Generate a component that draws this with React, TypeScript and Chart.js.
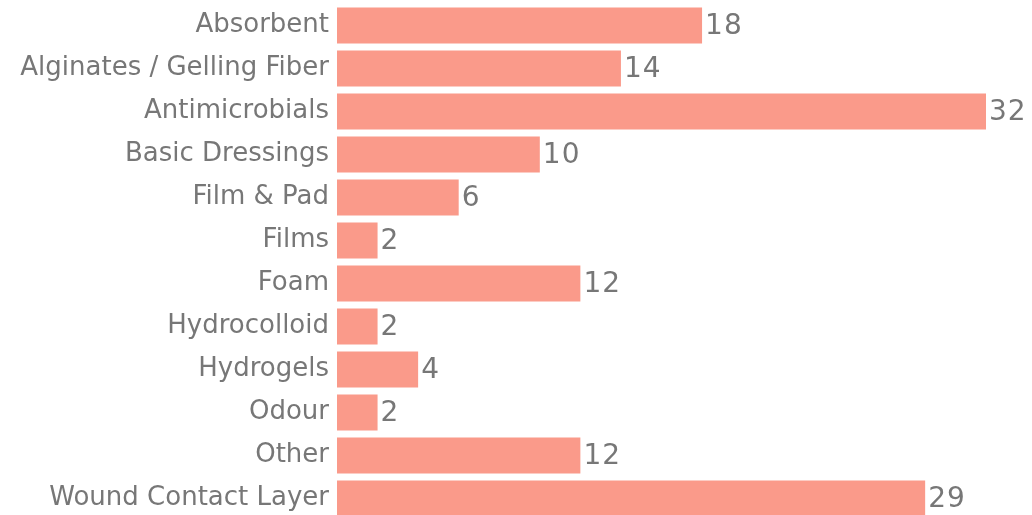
import React, { useEffect, useRef } from "react";
import { Chart, registerables } from "chart.js";

Chart.register(...registerables);

const categories = [
  "Absorbent",
  "Alginates / Gelling Fiber",
  "Antimicrobials",
  "Basic Dressings",
  "Film & Pad",
  "Films",
  "Foam",
  "Hydrocolloid",
  "Hydrogels",
  "Odour",
  "Other",
  "Wound Contact Layer",
];
const values = [18, 14, 32, 10, 6, 2, 12, 2, 4, 2, 12, 29];

const FONT = "'DejaVu Sans', sans-serif";
const TEXT = "#777777";
const BAR = "#FA9A8A";

const valueLabels = {
  id: "valueLabels",
  afterDatasetsDraw(chart: any) {
    const ctx = chart.ctx;
    const meta = chart.getDatasetMeta(0);
    ctx.save();
    ctx.font = `28px ${FONT}`;
    (ctx as any).letterSpacing = "1px";
    ctx.fillStyle = TEXT;
    ctx.textAlign = "left";
    ctx.textBaseline = "middle";
    meta.data.forEach((el: any, i: number) => {
      ctx.fillText(String(values[i]), el.x + 3, el.y + 1);
    });
    ctx.restore();
  },
};

export default function App() {
  const ref = useRef<HTMLCanvasElement>(null);
  useEffect(() => {
    document.body.style.margin = "0";
    document.body.style.overflow = "hidden";
    const chart = new Chart(ref.current!, {
      type: "bar",
      data: {
        labels: categories,
        datasets: [
          {
            data: values,
            backgroundColor: BAR,
            barPercentage: 0.84,
            categoryPercentage: 1,
          },
        ],
      },
      options: {
        indexAxis: "y",
        responsive: false,
        animation: false,
        layout: { padding: { top: 4, right: 46, bottom: 0, left: 0 } },
        plugins: { legend: { display: false }, tooltip: { enabled: false } },
        scales: {
          x: { display: false, min: 0, max: 32 },
          y: {
            grid: { display: false, drawTicks: false },
            border: { display: false },
            ticks: {
              font: { family: FONT, size: 26 },
              color: TEXT,
              padding: 8,
            },
            afterFit(scale: any) {
              scale.width = 337;
              scale.paddingTop = 0;
              scale.paddingBottom = 0;
            },
          },
        },
      },
      plugins: [valueLabels],
    });
    return () => chart.destroy();
  }, []);
  return (
    <div style={{ width: 1032, height: 520 }}>
      <canvas ref={ref} width={1032} height={520} />
    </div>
  );
}
